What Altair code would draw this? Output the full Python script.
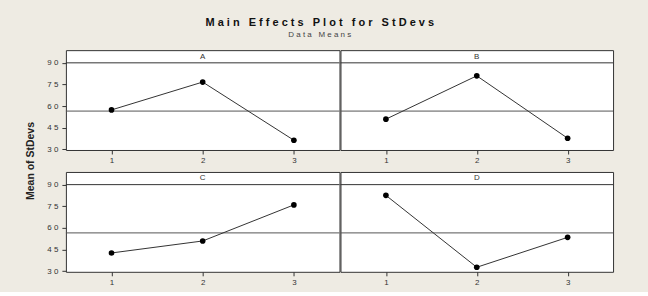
import altair as alt
import pandas as pd

FONT = "Liberation Sans"
NB = "\u00a0"

factors = ["A", "B", "C", "D"]
levels = [1, 2, 3]
means_A = [57.4, 76.7, 36.4]
means_B = [51.0, 81.0, 37.8]
means_C = [42.7, 51.0, 76.0]
means_D = [82.6, 32.8, 53.5]
grand_mean = 56.6
y_ticks = [30, 45, 60, 75, 90]
x_ticks = [1, 2, 3]
y_domain = [29.65, 98.8]

title_words = ["Main", "Effects", "Plot", "for", "StDevs"]
subtitle_words = ["Data", "Means"]
y_title = "Mean of StDevs"


def spaced(words):
    return (NB * 3).join(NB.join(list(w)) for w in words)


PW = 274
PW2 = 273
PH = 100


def panel(name, vals, show_y, width):
    df = pd.DataFrame({"level": levels, "mean": vals})
    x = alt.X("level:Q",
              scale=alt.Scale(domain=[0.5, 3.5], nice=False, zero=False),
              axis=alt.Axis(values=x_ticks, title=None, format="d"))
    if show_y:
        yaxis = alt.Axis(values=y_ticks, title=None,
                         labelExpr="slice(datum.label,0,1) + '\u00a0' + slice(datum.label,1)")
    else:
        yaxis = None
    y = alt.Y("mean:Q", scale=alt.Scale(domain=y_domain, nice=False, zero=False),
              axis=yaxis)
    base = alt.Chart(df)
    mean_rule = alt.Chart(pd.DataFrame({"mean": [grand_mean]})).mark_rule(
        color="#555555", strokeWidth=1).encode(y=y)
    line = base.mark_line(color="#333333", strokeWidth=1).encode(x=x, y=y)
    pts = base.mark_point(filled=True, shape="circle", size=32, color="black",
                          opacity=1).encode(x=x, y=y)
    strip_df = pd.DataFrame({"factor": [name]})
    strip_line = alt.Chart(strip_df).mark_rule(color="#333333", strokeWidth=1).encode(
        y=alt.value(12.7))
    strip_text = alt.Chart(strip_df).mark_text(
        font=FONT, fontSize=8, color="#333333", baseline="middle").encode(
        text="factor:N", x=alt.value(width / 2), y=alt.value(6.5))
    return alt.layer(mean_rule, line, pts, strip_line, strip_text).properties(
        width=width, height=PH)


pA = panel(factors[0], means_A, True, PW)
pB = panel(factors[1], means_B, False, PW2)
pC = panel(factors[2], means_C, True, PW)
pD = panel(factors[3], means_D, False, PW2)

grid = alt.vconcat(
    alt.hconcat(pA, pB, spacing=-1),
    alt.hconcat(pC, pD, spacing=-1),
    spacing=5,
)

ylab = alt.Chart(pd.DataFrame({"t": [y_title]})).mark_text(
    angle=270, font=FONT, fontSize=10.5, fontWeight="bold", color="#222222",
    baseline="middle", align="center").encode(
    text="t:N", x=alt.value(5), y=alt.value(111)).properties(
    width=10, height=221,
    view=alt.ViewBackground(stroke="transparent", fill="transparent"))

chart = alt.hconcat(ylab, grid, spacing=9).properties(
    title=alt.TitleParams(
        text=spaced(title_words), subtitle=spaced(subtitle_words), anchor="middle",
        font=FONT, fontSize=11, fontWeight="bold", color="#111111",
        subtitleFont=FONT, subtitleFontSize=8, subtitleColor="#444444",
        subtitlePadding=3, offset=11),
    padding={"left": 25, "top": 16, "right": 34, "bottom": 4},
    background="#eeebe3",
).configure_view(
    stroke="#333333", strokeWidth=1, fill="white"
).configure_axis(
    grid=False, domain=False, ticks=True, tickColor="#333333", tickSize=4,
    labelFont=FONT, labelFontSize=8, labelColor="#333333",
).configure_axisY(labelPadding=4).configure_axisX(labelPadding=3)

chart.save("out.html", embed_options={"renderer": "svg", "actions": False})
